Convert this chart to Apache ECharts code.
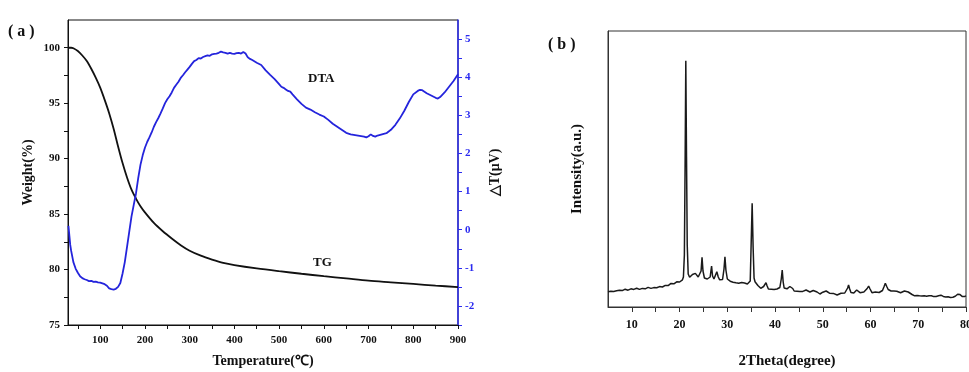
<!DOCTYPE html>
<html>
<head>
<meta charset="utf-8">
<script src="https://cdn.jsdelivr.net/npm/echarts@6/dist/echarts.min.js"></script>
<style>
  html, body { margin: 0; padding: 0; background: #ffffff; }
  #chart { width: 969px; height: 372px; }
</style>
</head>
<body>
<div id="chart"></div>
<script>
// ---- (a) thermal analysis: TG (weight %) and DTA (ΔT, μV) vs temperature ----
const tgTemp   = [29, 35, 40, 50, 60, 70, 80, 90, 100, 110, 120, 130, 140, 150, 160, 170, 180, 190, 200, 220, 240, 260, 280, 300, 325, 350, 375, 400, 450, 500, 550, 600, 650, 700, 750, 800, 850, 900];
const tgWeight = [100, 100, 99.95, 99.7, 99.3, 98.8, 98.1, 97.3, 96.4, 95.3, 94.1, 92.7, 91.1, 89.6, 88.3, 87.2, 86.4, 85.7, 85.15, 84.2, 83.45, 82.8, 82.2, 81.7, 81.25, 80.9, 80.6, 80.4, 80.1, 79.85, 79.62, 79.4, 79.2, 79.0, 78.85, 78.7, 78.55, 78.42];

const dtaTemp = [29, 31, 33, 35, 40, 45, 50, 55, 60, 65, 70, 75, 80, 85, 90, 95, 100, 105, 110, 115, 120, 125, 130, 135, 140, 145, 150, 155, 160, 165, 170, 175, 180, 185, 190, 195, 200, 205, 210, 215, 220, 225, 230, 235, 240, 245, 250, 255, 260, 265, 270, 275, 280, 285, 290, 295, 300, 305, 310, 315, 320, 325, 330, 335, 340, 345, 350, 355, 360, 365, 370, 375, 380, 385, 390, 395, 400, 405, 410, 415, 420, 425, 430, 435, 440, 450, 460, 470, 480, 490, 500, 505, 510, 515, 520, 525, 530, 540, 550, 560, 570, 580, 590, 600, 610, 620, 630, 640, 650, 660, 670, 680, 690, 695, 700, 705, 710, 715, 720, 730, 740, 750, 760, 770, 780, 790, 800, 810, 815, 820, 830, 840, 850, 855, 860, 870, 880, 890, 900];
const dtaValue = [0.10, -0.15, -0.40, -0.55, -0.85, -1.02, -1.13, -1.22, -1.27, -1.30, -1.32, -1.35, -1.34, -1.37, -1.36, -1.38, -1.39, -1.41, -1.43, -1.47, -1.54, -1.56, -1.57, -1.55, -1.50, -1.40, -1.15, -0.85, -0.45, -0.05, 0.35, 0.65, 0.95, 1.35, 1.70, 1.95, 2.15, 2.30, 2.42, 2.55, 2.70, 2.82, 2.93, 3.05, 3.18, 3.32, 3.42, 3.50, 3.60, 3.72, 3.80, 3.88, 3.98, 4.05, 4.13, 4.20, 4.27, 4.35, 4.42, 4.45, 4.50, 4.49, 4.53, 4.55, 4.57, 4.56, 4.60, 4.61, 4.62, 4.64, 4.67, 4.65, 4.64, 4.62, 4.64, 4.62, 4.61, 4.63, 4.64, 4.62, 4.66, 4.62, 4.52, 4.48, 4.45, 4.38, 4.32, 4.18, 4.06, 3.95, 3.82, 3.75, 3.72, 3.68, 3.64, 3.62, 3.55, 3.42, 3.30, 3.20, 3.15, 3.08, 3.02, 2.97, 2.88, 2.78, 2.70, 2.62, 2.54, 2.50, 2.48, 2.46, 2.44, 2.42, 2.45, 2.50, 2.46, 2.44, 2.47, 2.50, 2.53, 2.62, 2.75, 2.92, 3.12, 3.35, 3.55, 3.64, 3.67, 3.66, 3.58, 3.52, 3.46, 3.44, 3.48, 3.60, 3.75, 3.90, 4.08];

const tempTickLabels  = [100, 200, 300, 400, 500, 600, 700, 800, 900];
const tempTicks       = [50, 100, 150, 200, 250, 300, 350, 400, 450, 500, 550, 600, 650, 700, 750, 800, 850, 900];
const weightLabels    = [75, 80, 85, 90, 95, 100];
const weightTicks     = [75, 77.5, 80, 82.5, 85, 87.5, 90, 92.5, 95, 97.5, 100];
const deltaTLabels    = [-2, -1, 0, 1, 2, 3, 4, 5];
const deltaTTicks     = [-2.5, -2, -1.5, -1, -0.5, 0, 0.5, 1, 1.5, 2, 2.5, 3, 3.5, 4, 4.5, 5];

// ---- (b) XRD pattern: intensity (a.u.) vs 2θ ----
const xrdAngle = [
  5.0, 5.2, 5.4, 5.6, 5.8, 6.0, 6.2, 6.4, 6.6, 6.8, 7.0, 7.2, 7.4, 7.6, 7.8, 8.0, 8.2, 8.4, 8.6, 8.8,
  9.0, 9.2, 9.4, 9.6, 9.8, 10.0, 10.2, 10.4, 10.6, 10.8, 11.0, 11.2, 11.4, 11.6, 11.8, 12.0, 12.2, 12.4, 12.6, 12.8,
  13.0, 13.2, 13.4, 13.6, 13.8, 14.0, 14.2, 14.4, 14.6, 14.8, 15.0, 15.2, 15.4, 15.6, 15.8, 16.0, 16.2, 16.4, 16.6, 16.8,
  17.0, 17.2, 17.4, 17.6, 17.8, 18.0, 18.2, 18.4, 18.6, 18.8, 19.0, 19.2, 19.4, 19.6, 19.8, 20.0, 20.2, 20.4, 20.6, 20.8,
  21.0, 21.15, 21.3, 21.45, 21.6, 21.8, 22.1, 22.4, 22.7, 23.0, 23.3, 23.6, 23.9, 24.2, 24.5, 24.7, 24.9, 25.2, 25.5, 25.8,
  26.1, 26.4, 26.7, 26.9, 27.2, 27.5, 27.8, 28.1, 28.4, 28.7, 29.0, 29.3, 29.5, 29.7, 30.0, 30.3, 30.6, 30.9, 31.2, 31.5,
  31.8, 32.1, 32.4, 32.7, 33.0, 33.3, 33.6, 33.9, 34.2, 34.5, 34.8, 35.0, 35.2, 35.4, 35.6, 35.8, 36.1, 36.4, 36.7, 37.0,
  37.3, 37.6, 37.9, 38.1, 38.3, 38.6, 38.9, 39.2, 39.5, 39.8, 40.1, 40.4, 40.7, 41.0, 41.3, 41.5, 41.7, 41.9, 42.2, 42.5,
  42.8, 43.1, 43.4, 43.7, 44.0, 44.3, 44.6, 44.9, 45.2, 45.5, 45.8, 46.1, 46.5, 46.9, 47.3, 47.7, 48.0, 48.4, 48.8, 49.1,
  49.4, 49.7, 50.0, 50.4, 50.7, 51.0, 51.4, 51.8, 52.2, 52.6, 53.0, 53.4, 53.8, 54.2, 54.6, 55.0, 55.2, 55.4, 55.6, 55.9,
  56.2, 56.5, 56.8, 57.1, 57.4, 57.8, 58.2, 58.6, 59.0, 59.3, 59.6, 59.9, 60.3, 60.7, 61.0, 61.4, 61.8, 62.2, 62.5, 62.8,
  63.1, 63.4, 63.7, 64.0, 64.3, 64.6, 64.9, 65.2, 65.5, 65.9, 66.3, 66.7, 67.1, 67.5, 67.9, 68.3, 68.7,
  69.0, 69.25, 69.5, 69.75, 70.0, 70.25, 70.5, 70.75, 71.0, 71.25, 71.5, 71.75, 72.0, 72.25, 72.5, 72.75, 73.0, 73.25, 73.5, 73.75,
  74.0, 74.25, 74.5, 74.75, 75.0, 75.25, 75.5, 75.75, 76.0, 76.25, 76.5, 76.75, 77.0, 77.25, 77.5, 77.75, 78.0, 78.25, 78.5, 78.75,
  79.0, 79.25, 79.5, 79.75, 80.0
];
const xrdIntensity = [
  153, 160, 150, 158, 152, 164, 156, 166, 158, 163, 170, 160, 168, 162, 172, 164, 176, 166, 178, 170,
  174, 168, 180, 172, 182, 174, 186, 176, 184, 178, 188, 180, 184, 176, 188, 180, 186, 178, 190, 182,
  192, 184, 196, 186, 194, 186, 196, 188, 194, 190, 200, 192, 202, 194, 204, 198, 208, 200, 212, 204,
  216, 208, 222, 214, 228, 218, 236, 226, 240, 232, 246, 238, 252, 244, 258, 250, 264, 258, 272, 300,
  520, 1400, 2463, 1500, 620, 330, 297, 310, 325, 318, 336, 325, 300, 290, 360, 497, 360, 290, 287, 280,
  270, 300, 410, 310, 280, 300, 353, 300, 272, 262, 275, 380, 503, 370, 280, 268, 258, 262, 248, 255,
  242, 250, 238, 237, 245, 232, 240, 225, 230, 222, 260, 650, 1037, 600, 290, 253, 240, 215, 195, 187,
  195, 205, 225, 243, 215, 180, 170, 178, 168, 175, 172, 180, 177, 195, 280, 370, 250, 190, 177, 182,
  190, 205, 220, 185, 160, 153, 158, 150, 155, 148, 156, 158, 170, 155, 150, 158, 165, 177, 150, 138,
  130, 140, 148, 158, 160, 150, 138, 130, 136, 125, 120, 128, 137, 130, 140, 160, 190, 220, 185, 145,
  137, 140, 155, 170, 155, 143, 143, 150, 165, 185, 210, 180, 143, 140, 150, 153, 145, 148, 165, 200,
  237, 205, 175, 170, 160, 155, 160, 177, 158, 145, 143, 150, 160, 170, 150, 135, 125,
  120, 112, 124, 116, 122, 112, 118, 110, 121, 112, 117, 108, 116, 112, 124, 113, 110, 104, 113, 106,
  116, 112, 124, 118, 113, 106, 110, 101, 110, 102, 106, 96, 104, 98, 103, 108, 116, 128, 137, 124,
  112, 104, 110, 106, 112
];

const angleTickLabels = [10, 20, 30, 40, 50, 60, 70, 80];
const angleTicks      = [10, 15, 20, 25, 30, 35, 40, 45, 50, 55, 60, 65, 70, 75, 80];

const zip = (xs, ys) => xs.map((x, i) => [x, ys[i]]);

const SERIF = "'Liberation Serif', 'Times New Roman', serif";
const BLACK = '#111111';
const BLUE = '#2b2bf0';

const labelFont = { fontFamily: SERIF, fontWeight: 'bold', fontSize: 11, color: BLACK };
const nameFont  = { fontFamily: SERIF, fontWeight: 'bold', fontSize: 14, color: BLACK };

const chart = echarts.init(document.getElementById('chart'), null, { renderer: 'canvas' });

chart.setOption({
  backgroundColor: '#ffffff',
  animation: false,
  grid: [
    { left: 68, top: 20, width: 390, height: 305, show: true, borderColor: BLACK, borderWidth: 1, outerBoundsMode: 'none', containLabel: false },
    { left: 608, top: 31, width: 358, height: 276, show: true, borderColor: '#333333', borderWidth: 1, outerBoundsMode: 'none', containLabel: false }
  ],
  xAxis: [
    {
      type: 'value', gridIndex: 0, min: 28, max: 900,
      name: 'Temperature(℃)', nameLocation: 'middle', nameGap: 29, nameTextStyle: nameFont,
      axisLine: { show: true, onZero: false, lineStyle: { color: BLACK, width: 1 } },
      axisTick: { show: true, customValues: tempTicks, length: 4, lineStyle: { color: BLACK } },
      axisLabel: { customValues: tempTickLabels, margin: 10, ...labelFont },
      splitLine: { show: false }
    },
    {
      type: 'value', gridIndex: 1, min: 5, max: 80,
      name: '2Theta(degree)', nameLocation: 'middle', nameGap: 47, nameTextStyle: { ...nameFont, fontSize: 15 },
      axisLine: { show: true, onZero: false, lineStyle: { color: '#333333', width: 1 } },
      axisTick: { show: true, customValues: angleTicks, length: 5, lineStyle: { color: '#333333' } },
      axisLabel: { customValues: angleTickLabels, margin: 12, ...labelFont, fontSize: 12 },
      splitLine: { show: false }
    }
  ],
  yAxis: [
    {
      type: 'value', gridIndex: 0, position: 'left', min: 75, max: 102.5,
      name: 'Weight(%)', nameLocation: 'middle', nameGap: 33, nameTextStyle: nameFont,
      axisLine: { show: true, onZero: false, lineStyle: { color: BLACK, width: 1 } },
      axisTick: { show: true, customValues: weightTicks, length: 4, lineStyle: { color: BLACK } },
      axisLabel: { customValues: weightLabels, margin: 8, ...labelFont },
      splitLine: { show: false }
    },
    {
      type: 'value', gridIndex: 0, position: 'right', min: -2.5, max: 5.5,
      name: '△T(μV)', nameLocation: 'middle', nameGap: 30, nameTextStyle: nameFont,
      axisLine: { show: true, onZero: false, lineStyle: { color: BLUE, width: 1.5 } },
      axisTick: { show: true, customValues: deltaTTicks, length: 4, lineStyle: { color: BLUE } },
      axisLabel: { customValues: deltaTLabels, margin: 7, ...labelFont, color: BLUE },
      splitLine: { show: false }
    },
    {
      type: 'value', gridIndex: 1, position: 'left', min: 0, max: 2760,
      name: 'Intensity(a.u.)', nameLocation: 'middle', nameGap: 23, nameTextStyle: { ...nameFont, fontSize: 15 },
      axisLine: { show: true, onZero: false, lineStyle: { color: '#333333', width: 1 } },
      axisTick: { show: false },
      axisLabel: { show: false },
      splitLine: { show: false }
    }
  ],
  series: [
    {
      name: 'TG', type: 'line', xAxisIndex: 0, yAxisIndex: 0,
      data: zip(tgTemp, tgWeight), smooth: 0.3, showSymbol: false,
      lineStyle: { color: BLACK, width: 1.8 }
    },
    {
      name: 'DTA', type: 'line', xAxisIndex: 0, yAxisIndex: 1,
      data: zip(dtaTemp, dtaValue), showSymbol: false,
      lineStyle: { color: '#2424dc', width: 1.8 }
    },
    {
      name: 'XRD', type: 'line', xAxisIndex: 1, yAxisIndex: 2,
      data: zip(xrdAngle, xrdIntensity), showSymbol: false,
      lineStyle: { color: '#1a1a1a', width: 1.5 }
    }
  ],
  graphic: [
    { type: 'text', left: 8, top: 24, style: { text: '( a )', font: "bold 16px 'Liberation Serif', serif", fill: BLACK } },
    { type: 'text', left: 548, top: 37, style: { text: '( b )', font: "bold 16px 'Liberation Serif', serif", fill: BLACK } },
    { type: 'text', left: 308, top: 72, style: { text: 'DTA', font: "bold 13px 'Liberation Serif', serif", fill: BLACK } },
    { type: 'text', left: 313, top: 256, style: { text: 'TG', font: "bold 13px 'Liberation Serif', serif", fill: BLACK } }
  ]
});
</script>
</body>
</html>
